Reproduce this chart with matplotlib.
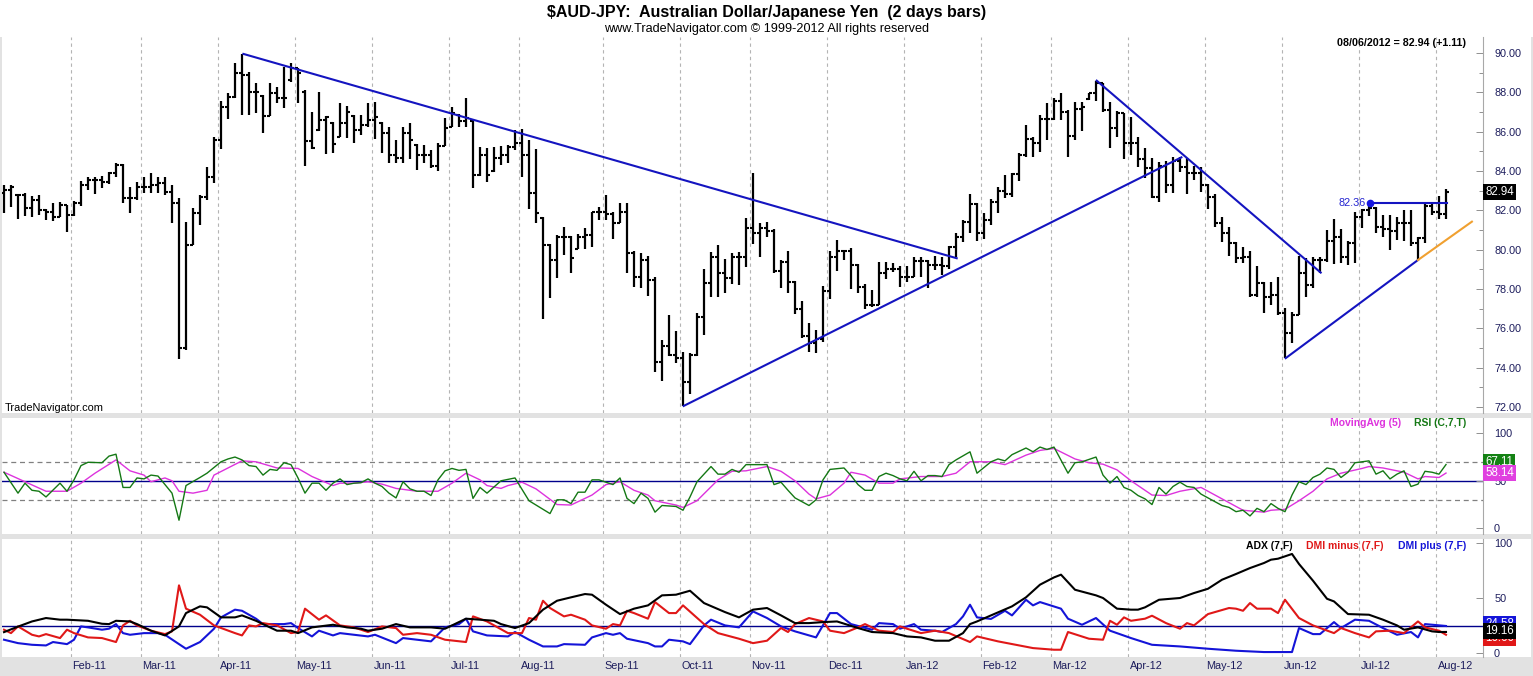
import numpy as np
import matplotlib.pyplot as plt
from matplotlib.transforms import blended_transform_factory as blend

plt.rcParams['font.family'] = ['Liberation Sans', 'DejaVu Sans']

# ---- price bars (2 day bars, Jan-11 .. 08/06/2012) ----
opn = [82.90, 83.03, 82.80, 82.78, 82.10, 82.52, 82.02, 81.93, 81.68, 82.27,
       81.76, 82.36, 83.29, 83.54, 83.54, 83.46, 83.88, 84.30, 82.61, 82.61,
       83.20, 83.20, 83.29, 83.37, 82.95, 82.36, 74.98, 80.24, 81.85, 82.69,
       83.71, 85.58, 87.27, 87.78, 88.97, 88.88, 88.03, 87.80, 86.80, 87.95,
       87.69, 88.60, 89.22, 88.00, 85.50, 86.10, 86.59, 86.45, 85.75, 86.46,
       86.80, 86.08, 86.34, 86.59, 86.45, 85.91, 84.81, 84.64, 85.91, 85.30,
       84.81, 84.81, 84.25, 85.27, 86.25, 86.85, 86.56, 86.55, 83.80, 84.81,
       84.00, 84.64, 84.81, 85.24, 85.41, 84.81, 82.86, 81.60, 80.24, 79.47,
       80.66, 80.66, 80.05, 80.66, 80.75, 81.93, 81.93, 81.81, 81.34, 81.93,
       79.81, 78.63, 79.47, 78.46, 74.30, 75.10, 74.64, 74.47, 73.29, 74.64,
       76.59, 78.29, 79.64, 78.80, 78.54, 79.64, 79.64, 81.08, 80.86, 81.08,
       80.97, 78.93, 79.39, 78.37, 76.97, 75.61, 75.24, 75.44, 77.91, 79.61,
       79.95, 79.95, 79.22, 78.08, 77.19, 77.19, 78.80, 79.00, 79.00, 78.63,
       78.63, 79.44, 79.44, 79.22, 79.22, 79.14, 80.15, 80.66, 81.42, 82.32,
       80.86, 81.51, 82.44, 83.00, 82.83, 83.85, 84.81, 85.61, 85.41, 86.63,
       86.63, 87.58, 87.02, 85.78, 87.14, 87.65, 87.95, 88.49, 87.10, 86.17,
       86.97, 85.44, 85.44, 84.59, 84.13, 82.69, 84.25, 83.29, 84.52, 84.22,
       83.91, 83.91, 83.29, 82.69, 81.37, 80.83, 80.32, 79.56, 79.61, 77.69,
       78.29, 77.61, 77.70, 76.80, 75.75, 76.68, 78.80, 78.20, 79.47, 79.47,
       80.46, 80.66, 79.64, 80.32, 81.68, 82.02, 82.10, 81.17, 81.03, 80.92,
       81.37, 81.37, 80.32, 80.58, 82.22, 81.93, 81.83]
high = [83.29, 83.29, 82.83, 82.90, 82.73, 82.78, 82.05, 82.36, 82.44, 82.27,
        82.49, 83.51, 83.71, 83.68, 83.75, 83.97, 84.42, 84.36, 83.20, 83.46,
        83.71, 83.91, 83.71, 83.71, 83.29, 82.61, 81.42, 82.10, 82.78, 84.22,
        85.74, 87.58, 87.95, 89.51, 89.95, 89.05, 88.46, 87.86, 88.49, 88.29,
        89.30, 89.51, 89.22, 88.12, 87.02, 88.03, 86.80, 86.51, 87.47, 87.30,
        86.85, 86.85, 87.44, 87.52, 86.51, 86.22, 85.58, 86.22, 86.42, 85.37,
        85.32, 85.07, 85.44, 86.68, 87.27, 86.90, 87.71, 86.59, 85.24, 85.15,
        85.24, 85.27, 85.32, 86.08, 86.12, 85.58, 85.10, 81.68, 80.29, 80.75,
        81.14, 80.69, 80.80, 81.08, 81.93, 82.19, 82.78, 81.93, 82.39, 82.36,
        79.95, 79.81, 79.68, 78.59, 75.41, 76.68, 75.88, 74.81, 74.76, 76.76,
        79.00, 79.90, 80.24, 79.51, 79.81, 79.90, 81.59, 83.91, 81.37, 81.42,
        81.03, 79.47, 79.95, 78.42, 77.36, 76.25, 75.91, 78.15, 79.95, 80.49,
        79.98, 80.07, 79.27, 78.25, 77.95, 79.39, 79.39, 79.34, 79.14, 79.14,
        79.64, 79.61, 79.47, 79.68, 79.64, 80.19, 80.83, 81.51, 82.83, 82.36,
        81.85, 82.56, 83.20, 83.80, 83.88, 84.93, 86.34, 85.74, 86.85, 87.44,
        87.69, 87.95, 87.10, 87.52, 87.52, 87.98, 88.59, 88.49, 87.52, 87.07,
        86.97, 86.76, 85.74, 85.15, 84.64, 84.47, 84.52, 84.73, 84.69, 84.64,
        84.25, 84.22, 83.34, 82.83, 81.64, 81.13, 80.41, 80.12, 79.95, 79.14,
        78.37, 78.37, 78.63, 77.02, 76.85, 79.68, 79.56, 79.64, 79.61, 81.00,
        81.54, 81.03, 80.46, 81.93, 82.05, 82.27, 82.19, 81.76, 81.76, 81.68,
        82.02, 82.02, 80.66, 82.39, 82.39, 82.70, 83.07]
low = [81.88, 82.19, 81.54, 81.71, 81.68, 81.76, 81.51, 81.46, 81.68, 80.91,
       81.71, 82.22, 83.03, 82.83, 83.12, 83.34, 83.68, 82.39, 81.85, 82.52,
       82.86, 82.90, 82.86, 82.78, 81.37, 74.42, 74.90, 80.24, 81.25, 82.52,
       83.37, 85.10, 86.63, 87.69, 86.85, 86.85, 86.93, 85.95, 86.80, 87.44,
       87.19, 88.54, 87.47, 84.25, 85.10, 86.05, 84.86, 84.90, 85.71, 85.66,
       85.41, 85.83, 86.22, 85.61, 84.90, 84.39, 84.39, 84.39, 84.59, 84.05,
       84.42, 84.13, 84.02, 85.27, 86.22, 86.22, 86.22, 83.12, 83.75, 83.46,
       83.97, 84.30, 84.39, 85.07, 83.71, 82.05, 81.34, 76.46, 77.53, 78.54,
       79.73, 78.80, 80.02, 80.02, 80.12, 81.51, 81.51, 80.53, 81.34, 78.83,
       78.08, 78.03, 77.64, 73.80, 73.34, 74.59, 74.22, 72.05, 72.66, 74.59,
       75.66, 77.58, 77.58, 77.78, 78.25, 78.20, 79.10, 80.29, 79.61, 80.66,
       78.83, 78.03, 77.78, 76.73, 75.49, 74.81, 74.73, 75.32, 77.47, 78.93,
       79.47, 77.98, 77.81, 76.97, 77.10, 77.19, 78.49, 78.88, 78.12, 78.37,
       78.59, 78.59, 78.03, 78.97, 78.71, 79.00, 79.64, 80.41, 80.83, 80.46,
       80.53, 81.25, 81.88, 82.61, 82.69, 83.51, 84.69, 84.69, 84.98, 85.58,
       86.59, 86.59, 84.73, 85.58, 86.05, 87.61, 87.58, 87.02, 85.15, 85.74,
       84.59, 84.81, 84.22, 83.63, 82.61, 82.44, 82.86, 82.90, 83.97, 82.83,
       83.54, 82.95, 82.05, 81.13, 80.41, 79.68, 79.34, 79.34, 77.58, 77.61,
       76.80, 77.19, 76.68, 74.48, 75.24, 76.68, 77.61, 78.03, 78.80, 79.39,
       79.27, 79.30, 79.22, 79.30, 81.08, 81.71, 80.83, 80.66, 79.98, 80.49,
       80.46, 80.19, 79.47, 80.32, 81.76, 81.54, 81.54]
close = [83.03, 83.20, 82.78, 82.10, 82.52, 82.02, 81.93, 81.68, 82.27, 81.76,
         82.36, 83.29, 83.54, 83.54, 83.46, 83.88, 84.30, 82.61, 82.61, 83.20,
         83.20, 83.29, 83.37, 82.95, 82.36, 74.98, 80.24, 81.85, 82.69, 83.71,
         85.58, 87.27, 87.78, 88.97, 88.88, 88.03, 88.03, 86.80, 87.95, 87.69,
         87.69, 89.22, 88.97, 85.50, 85.15, 86.59, 86.76, 85.37, 86.46, 87.02,
         86.08, 86.34, 86.59, 86.76, 85.91, 84.81, 84.64, 85.91, 85.58, 84.81,
         84.81, 84.25, 85.27, 86.17, 86.97, 86.56, 86.68, 83.80, 84.81, 83.80,
         84.64, 84.81, 85.24, 85.41, 84.81, 82.86, 81.85, 80.24, 79.47, 80.66,
         80.66, 79.56, 80.66, 80.75, 81.93, 81.93, 81.81, 81.34, 81.93, 79.81,
         78.63, 79.47, 78.46, 74.30, 75.10, 74.64, 74.47, 73.29, 74.64, 76.59,
         78.29, 79.64, 78.80, 78.54, 79.64, 79.64, 81.08, 80.86, 81.08, 80.97,
         78.93, 79.39, 78.37, 76.97, 75.61, 75.24, 75.44, 77.91, 79.61, 79.95,
         79.95, 79.22, 78.08, 77.19, 77.19, 78.80, 79.00, 79.00, 78.63, 78.63,
         79.44, 79.44, 79.22, 79.22, 79.14, 80.15, 80.66, 81.42, 82.32, 80.86,
         81.51, 82.44, 83.00, 82.83, 83.85, 84.81, 85.61, 85.41, 86.63, 86.63,
         87.58, 87.02, 85.78, 87.14, 87.24, 87.95, 88.49, 87.10, 86.17, 86.97,
         85.44, 85.44, 84.59, 84.13, 82.69, 84.25, 83.29, 84.52, 84.22, 83.91,
         83.91, 83.29, 82.69, 81.37, 80.83, 80.32, 79.56, 79.61, 77.69, 78.29,
         77.61, 77.70, 76.80, 75.75, 76.68, 78.80, 78.20, 79.47, 79.47, 80.46,
         80.66, 79.64, 80.32, 81.68, 82.02, 82.10, 81.17, 81.03, 80.92, 81.37,
         81.37, 80.32, 80.58, 82.22, 81.93, 81.83, 82.94]

# trendlines drawn on the chart (bar index, price)
blue_lines = [((34.2, 89.95), (136.1, 79.56)),
              ((97.1, 72.05), (168.2, 84.69)),
              ((156.1, 88.59), (188.1, 78.83)),
              ((183.1, 74.48), (202.0, 79.47))]
orange_line = ((202.0, 79.47), (209.7, 81.42))
level_val = 82.36
level_k = (195.2, 206.2)

# month boundaries (first bar of month) and labels
month_first = [10, 20, 31, 42, 53, 64, 74, 86, 97, 107, 118, 129, 140, 150,
               161, 172, 183, 194, 205]
month_lbl = ['Feb-11', 'Mar-11', 'Apr-11', 'May-11', 'Jun-11', 'Jul-11',
             'Aug-11', 'Sep-11', 'Oct-11', 'Nov-11', 'Dec-11', 'Jan-12',
             'Feb-12', 'Mar-12', 'Apr-12', 'May-12', 'Jun-12', 'Jul-12',
             'Aug-12']

# ---- RSI (C,7,T) and its 5 bar moving average ----
rsi_k = [0, 2, 3, 4, 5, 6, 8, 9, 10, 11, 12, 14, 15, 16, 17, 18, 19, 20, 21,
         22, 24, 25, 26, 28, 29, 31, 32, 33, 34, 35, 36, 37, 38, 39, 40, 41,
         42, 43, 44, 45, 46, 47, 48, 49, 50, 51, 52, 53, 54, 55, 56, 57, 58,
         59, 60, 61, 62, 63, 64, 65, 66, 67, 68, 69, 71, 73, 75, 78, 79, 80,
         81, 82, 83, 84, 85, 87, 88, 89, 90, 91, 92, 93, 94, 96, 97, 98, 99,
         100, 101, 102, 103, 104, 105, 106, 107, 109, 110, 111, 112, 113,
         115, 116, 117, 118, 120, 121, 122, 123, 124, 125, 126, 127, 128,
         129, 130, 131, 132, 133, 134, 135, 136, 138, 139, 141, 142, 143,
         144, 146, 147, 148, 149, 150, 152, 153, 154, 156, 157, 158, 159,
         160, 161, 162, 163, 164, 165, 166, 167, 168, 169, 170, 171, 173,
         174, 175, 176, 177, 178, 179, 180, 181, 182, 183, 184, 185, 186,
         187, 188, 189, 190, 191, 192, 193, 195, 196, 197, 198, 199, 200,
         201, 202, 203, 204, 205, 206]
rsi_v = [59, 37, 47.5, 40, 39, 33, 47.5, 39, 51, 66, 69.5, 69, 76, 78, 43, 43,
         53, 52, 56, 55, 37, 8.5, 45, 53.5, 58, 70, 73, 75, 72, 66, 65, 56, 62,
         61, 69, 67, 53, 37, 47.5, 47.5, 40, 47.5, 52, 46, 47.5, 48, 52, 47.5,
         44, 37, 32, 49, 41.5, 39, 39, 34.5, 51, 60.5, 63, 61, 62, 31.5, 43,
         37, 50, 53, 29, 15.5, 30, 30, 26, 38, 38, 51, 51, 46, 53, 31.5, 26,
         37, 31.5, 17, 24, 23, 19, 33, 49, 57, 65, 57, 57, 62, 59, 67, 67, 67,
         46, 48.5, 40, 32, 24, 30, 51, 62, 63.5, 55.5, 46, 40, 40, 54.5, 58,
         55.5, 52, 50, 60, 50, 55.5, 55.5, 54.5, 67, 72, 80.5, 58, 70, 73, 71,
         77.5, 84.5, 80.5, 85.5, 83, 85.5, 58, 69, 70, 75, 56, 47.5, 54.5, 43,
         40, 34.5, 31, 25, 43, 36, 44, 48.5, 44, 43, 36, 28, 24, 22, 17.5, 19,
         13, 21, 17.5, 26, 21, 17.5, 35, 49, 46, 53.5, 57, 63.5, 62, 53.5, 59,
         69, 71, 57, 60.5, 52, 57, 60.5, 44, 46.5, 60, 59, 57, 67.11]
ma_k = [0, 3, 6, 7, 9, 11, 13, 16, 18, 20, 21, 23, 24, 25, 27, 29, 30, 32, 34,
        36, 39, 42, 44, 47, 48, 50, 52, 54, 56, 58, 59, 62, 64, 66, 68, 69,
        71, 72, 74, 76, 79, 81, 84, 86, 88, 90, 92, 93, 96, 97, 99, 102, 104,
        106, 109, 111, 113, 115, 116, 118, 120, 121, 123, 125, 127, 128, 131,
        134, 136, 138, 141, 143, 146, 148, 150, 153, 155, 157, 159, 161, 164,
        166, 168, 171, 173, 175, 177, 180, 181, 183, 185, 187, 189, 191, 194,
        195, 197, 200, 202, 203, 205, 206]
ma_v = [59, 49, 39, 39, 39, 47.5, 58, 72, 60.5, 56, 49, 53, 50, 39, 37, 40, 56,
        63.5, 71, 70, 63.5, 63, 54.5, 45, 47.5, 47.5, 49, 46.5, 42, 40, 39, 39,
        47.5, 58, 51, 45, 42, 45, 48.5, 41.5, 25, 24.5, 35, 46, 49, 40, 35, 29,
        24.5, 22, 29, 51, 60, 60.5, 65, 60, 50, 36, 31, 35, 47.5, 59, 56, 47.5,
        47.5, 52, 54.5, 54.5, 58, 70, 70, 67, 77, 82, 84, 73, 69, 67.5, 61.5,
        50, 35, 34.5, 39, 43, 35, 27, 19, 17, 19, 20, 29, 39, 52, 58, 63, 65,
        63.5, 59, 52, 54.5, 53.5, 58.14]

# ---- ADX / DMI (7,F) ----
adx_k = [0, 2, 4, 6, 8, 9, 12, 14, 15, 16, 18, 19, 21, 23, 25, 26, 28, 29, 31,
         33, 34, 36, 38, 39, 41, 42, 44, 47, 49, 51, 52, 54, 56, 58, 61, 63,
         64, 66, 68, 70, 71, 73, 75, 77, 79, 81, 83, 84, 86, 88, 90, 92, 94,
         96, 98, 100, 103, 105, 107, 109, 111, 113, 115, 117, 119, 122, 124,
         127, 129, 131, 133, 135, 137, 138, 139, 141, 144, 146, 148, 150, 151,
         153, 156, 157, 159, 161, 162, 163, 165, 168, 170, 172, 174, 176, 178,
         180, 181, 182, 184, 185, 187, 189, 190, 192, 195, 197, 199, 200, 202,
         204, 205, 206]
adx_v = [19, 24, 28.7, 31.8, 30.3, 30.3, 29.3, 26.6, 26.3, 29.3, 28.7, 26.3,
         20.3, 16, 24.2, 36.3, 42.4, 41.5, 32.4, 32.4, 34.2, 29.3, 23.3, 20.3,
         20.3, 18.1, 23.3, 25.7, 23.3, 22.1, 20.3, 22.1, 26.3, 23.3, 23.3, 22.1,
         25.1, 31.2, 30.3, 29.3, 26.3, 22.7, 27.2, 39.4, 47.5, 50.6, 53.6, 53,
         43.9, 35.4, 40.3, 43.3, 52.4, 53, 56.6, 45.4, 37.2, 32.4, 39.4, 40.9,
         34.2, 27.2, 27.2, 28.1, 28.7, 22.7, 19.1, 18.1, 15.1, 14.2, 11.2, 11.2,
         18.1, 26.3, 28.7, 34.2, 42.4, 50.6, 62.1, 68.7, 71.2, 57.5, 52.4, 50,
         40.3, 39.4, 39.4, 41.5, 48.4, 50, 54.5, 58.4, 66.6, 71.8, 77.2, 81.8,
         84.8, 85.7, 90, 80.9, 65.7, 49.3, 46.9, 35.4, 34.8, 30.3, 25.1, 21.2,
         23.3, 19.7, 19.1, 19.16]
dmim_k = [0, 1, 2, 4, 5, 6, 8, 9, 10, 12, 14, 16, 17, 18, 19, 21, 23, 24, 25,
          26, 28, 30, 33, 34, 35, 36, 37, 39, 41, 42, 43, 45, 46, 48, 50, 52,
          54, 56, 57, 59, 61, 63, 66, 67, 69, 72, 74, 75, 76, 77, 78, 80, 81,
          83, 84, 86, 87, 88, 89, 90, 92, 93, 95, 96, 97, 100, 102, 105, 107,
          109, 111, 112, 113, 115, 117, 118, 120, 122, 123, 125, 127, 128, 129,
          131, 133, 135, 138, 139, 142, 145, 147, 150, 151, 152, 155, 157, 158,
          159, 160, 161, 163, 164, 166, 168, 169, 170, 172, 175, 176, 177, 178,
          179, 181, 182, 183, 185, 187, 190, 191, 193, 195, 196, 198, 200, 202,
          203, 205, 206]
dmim_v = [21.2, 18.1, 24.2, 16.6, 15.1, 17.2, 13.6, 21.2, 18.1, 14.2, 13.6, 10,
          25.1, 29.3, 25.1, 20.3, 17.2, 19.7, 61.5, 40.3, 34.8, 25.1, 18.1, 16,
          25.1, 24.2, 27.2, 25.1, 18.1, 19.1, 40.3, 30.3, 34.2, 25.1, 23.3,
          19.1, 24.2, 22.7, 16.6, 18.1, 16.6, 12.1, 10, 33.3, 28.7, 18.1, 18.1,
          31.8, 30.3, 47.5, 40.9, 33.3, 34.8, 30.3, 25.1, 22.1, 26.3, 25.1,
          38.4, 36.3, 31.2, 46.3, 36.3, 36.3, 43.3, 26.3, 18.1, 13, 9, 11.2,
          22.7, 19.1, 26.3, 31.8, 28.7, 20.3, 18.1, 23.3, 26.3, 20.3, 19.1,
          24.2, 22.1, 18.1, 20.3, 18.1, 10, 15.1, 10.6, 6.9, 4.5, 3, 3, 19.1,
          13, 12.1, 29.3, 25.7, 32.4, 29.3, 31.2, 33.9, 27.2, 22.1, 27.2, 25.1,
          35.4, 40.9, 40.3, 38.4, 45.4, 40.3, 40.3, 36.3, 48.4, 31.8, 25.1,
          18.1, 22.7, 18.1, 14.2, 19.7, 20.3, 18.1, 28.7, 23.3, 20.3, 16.6]
dmip_k = [0, 2, 4, 6, 7, 9, 10, 11, 12, 14, 15, 16, 17, 18, 20, 22, 23, 25, 26,
          28, 30, 31, 33, 34, 36, 37, 40, 41, 42, 44, 45, 47, 48, 50, 52, 53,
          56, 57, 59, 61, 63, 65, 66, 67, 69, 72, 73, 75, 77, 79, 80, 83, 84,
          86, 87, 88, 89, 92, 93, 94, 95, 97, 98, 100, 101, 103, 105, 107,
          109, 111, 113, 116, 118, 119, 121, 124, 125, 127, 128, 130, 131, 133,
          134, 136, 137, 138, 139, 141, 143, 144, 146, 147, 148, 151, 152, 154,
          156, 158, 161, 164, 168, 172, 176, 180, 184, 185, 187, 188, 190, 191,
          193, 195, 197, 199, 201, 202, 203, 206]
dmip_v = [12.1, 9, 7.5, 6.9, 10, 8.1, 12.1, 24.2, 23.3, 21.2, 22.1, 26.3, 18.1,
          16.6, 18.1, 18.1, 16.6, 8.1, 3.9, 10, 22.1, 32.4, 39.4, 38.4, 31.2,
          26.3, 26.3, 27.2, 22.7, 15.1, 20.3, 16, 18.1, 16.6, 15.1, 16.6, 9,
          13.6, 12.1, 10.6, 23.3, 26.3, 31.2, 19.7, 16, 15.1, 19.1, 12.1, 6, 6,
          8.1, 7.5, 14.2, 18.1, 16.6, 18.1, 13, 9, 6, 6, 12.1, 10.6, 8.1, 25.1,
          30.3, 25.1, 23.3, 37.8, 31.8, 24.2, 19.7, 14.2, 36.3, 36.3, 26.3,
          21.2, 27.2, 26.3, 22.1, 26.3, 21.2, 20.3, 19.1, 26.3, 33.3, 43.9,
          32.4, 31, 38.4, 34.2, 48.4, 43.3, 46.3, 40.3, 31.2, 25.7, 31.8, 20.3,
          13.6, 7.5, 6, 3.9, 2.1, 0.9, 0.9, 22.7, 17.2, 17.2, 28.1, 22.7, 30.3,
          29.3, 22.7, 16.6, 19.1, 14.2, 26.3, 24.58]

# ---------------------------------------------------------------------------
W, H = 1533, 676
fig = plt.figure(figsize=(W / 100, H / 100), dpi=100)
fig.patch.set_facecolor('#e2e2e2')
navy = '#1c1c5c'
grid_c = '#b4b4b4'


def box(x0, y0, x1, y1):
    return [x0 / W, 1 - y1 / H, (x1 - x0) / W, (y1 - y0) / H]


def ftext(x, y, s, **kw):
    fig.text(x / W, 1 - y / H, s, **kw)


def white(x0, y0, x1, y1):
    fig.patches.append(plt.Rectangle((x0 / W, 1 - y1 / H), (x1 - x0) / W,
                                     (y1 - y0) / H, transform=fig.transFigure,
                                     facecolor='white', edgecolor='none',
                                     zorder=-5))


white(0, 0, W, 37)
white(1484, 37, 1531, 413)
white(1484, 418, 1531, 534)
white(1484, 539, 1531, 657)

xlim = ((2 - 4) / 7, (1483 - 4) / 7)


def panel(rect, ylim):
    ax = fig.add_axes(rect)
    ax.set_xlim(*xlim)
    ax.set_ylim(*ylim)
    ax.set_xticks([])
    for s in ['top', 'bottom', 'left']:
        ax.spines[s].set_visible(False)
    ax.spines['right'].set_color('#a8a8a8')
    ax.spines['right'].set_linewidth(0.8)
    ax.yaxis.tick_right()
    ax.tick_params(axis='y', direction='in', length=5, width=0.7,
                   color='#909090', labelsize=7.8, labelcolor=navy, pad=8)
    ax.tick_params(axis='y', which='minor', direction='in', length=3,
                   width=0.7, color='#909090')
    for m in month_first:
        ax.axvline(m - 0.43, color=grid_c, lw=0.8, ls=(0, (3, 3)), zorder=0)
    return ax


def value_box(ax, y, s, color, z):
    tr = blend(ax.transAxes, ax.transData)
    ax.text(1.0015, y, s, transform=tr, color='white', fontsize=8.3,
            ha='left', va='center', clip_on=False, zorder=z,
            bbox=dict(boxstyle='square,pad=0.18', fc=color, ec='none'))


# ---- price panel ----
ax1 = panel(box(2, 37, 1483, 413), (71.69, 90.81))
k = np.arange(len(close))
ax1.vlines(k, low, high, color='black', lw=1.6, zorder=3)
ax1.hlines(opn, k - 0.45, k, color='black', lw=1.5, zorder=3)
ax1.hlines(close, k, k + 0.45, color='black', lw=1.5, zorder=3)
for (k0, p0), (k1, p1) in blue_lines:
    ax1.plot([k0, k1], [p0, p1], color='#1414c0', lw=1.5, zorder=4)
ax1.plot([orange_line[0][0], orange_line[1][0]],
         [orange_line[0][1], orange_line[1][1]], color='#f0a030', lw=1.5,
         zorder=4)
ax1.plot(level_k, [level_val, level_val], color='#1414c0', lw=1.5, zorder=4)
ax1.plot(level_k[0], level_val, 'o', color='#1414e0', ms=4.5, zorder=5)
ax1.text(level_k[0] - 0.7, level_val, f'{level_val:.2f}', color='#2424d0',
         fontsize=7.8, ha='right', va='center')
ax1.set_yticks(np.arange(72, 91, 2))
ax1.set_yticks(np.arange(73, 90, 2), minor=True)
ax1.yaxis.set_major_formatter(plt.FormatStrFormatter('%.2f'))
value_box(ax1, close[-1], f'{close[-1]:.2f}', 'black', 10)

# ---- RSI panel ----
ax2 = panel(box(2, 418, 1483, 534), (-6, 116.1))
ax2.axhline(50, color='#00008b', lw=1.0, zorder=1)
for lv in (30, 70):
    ax2.axhline(lv, color='#808080', lw=0.9, ls=(0, (4, 3)), zorder=1)
ax2.plot(ma_k, ma_v, color='#dd33dd', lw=1.0, zorder=3)
ax2.plot(rsi_k, rsi_v, color='#147814', lw=1.0, zorder=4)
ax2.set_yticks([0, 50, 100])
value_box(ax2, 70, f'{rsi_v[-1]:.2f}', '#148214', 10)
value_box(ax2, ma_v[-1], f'{ma_v[-1]:.2f}', '#e040e0', 11)

# ---- ADX panel ----
ax3 = panel(box(2, 539, 1483, 657), (-3.6, 103.6))
ax3.axhline(25, color='#00008b', lw=1.0, zorder=1)
ax3.plot(dmip_k, dmip_v, color='#1414d8', lw=1.5, zorder=3)
ax3.plot(dmim_k, dmim_v, color='#e01818', lw=1.5, zorder=4)
ax3.plot(adx_k, adx_v, color='black', lw=1.5, zorder=5)
ax3.set_yticks([0, 50, 100])
value_box(ax3, 26.4, f'{dmip_v[-1]:.2f}', '#1414d8', 10)
value_box(ax3, 13.6, f'{dmim_v[-1]:.2f}', '#e01818', 11)
value_box(ax3, 20, f'{adx_v[-1]:.2f}', 'black', 12)

# month labels under the bottom panel
tbx = blend(ax3.transData, ax3.transAxes)
for m, lbl in zip(month_first, month_lbl):
    ax3.text(m - 0.2, -0.03, lbl, transform=tbx, ha='left', va='top',
             fontsize=7.8, color=navy, clip_on=False)

# ---- texts ----
ftext(W / 2, 12, r'\$AUD-JPY:  Australian Dollar/Japanese Yen  (2 days bars)',
      ha='center', va='center', fontsize=11.5, fontweight='bold')
ftext(W / 2, 29, 'www.TradeNavigator.com \u00a9 1999-2012 All rights reserved',
      ha='center', va='center', fontsize=9.1)
ftext(1466, 43, '08/06/2012 = 82.94 (+1.11)', ha='right', va='center',
      fontsize=7.7, fontweight='bold')
ftext(5, 408, 'TradeNavigator.com', ha='left', va='center', fontsize=7.9)
ftext(1466, 423, 'RSI (C,7,T)', ha='right', va='center', fontsize=7.5,
      fontweight='bold', color='#147814')
ftext(1401, 423, 'MovingAvg (5)', ha='right', va='center', fontsize=7.5,
      fontweight='bold', color='#dd33dd')
ftext(1466, 546, 'DMI plus (7,F)', ha='right', va='center', fontsize=7.5,
      fontweight='bold', color='#1414d8')
ftext(1383, 546, 'DMI minus (7,F)', ha='right', va='center', fontsize=7.5,
      fontweight='bold', color='#e01818')
ftext(1293, 546, 'ADX (7,F)', ha='right', va='center', fontsize=7.5,
      fontweight='bold', color='black')

fig.savefig('out.png', dpi=100, facecolor=fig.get_facecolor())
